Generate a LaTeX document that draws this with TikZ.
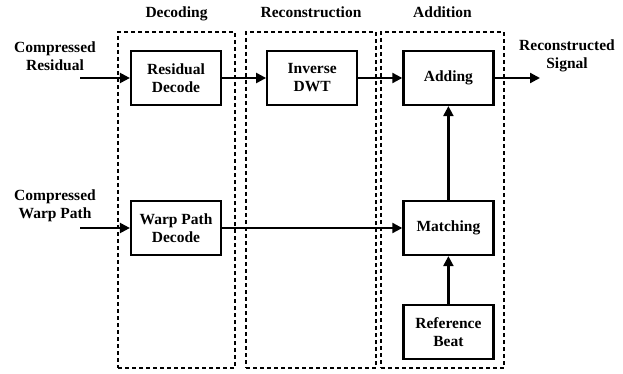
\documentclass[tikz,border=0pt]{standalone}
\usepackage{fontspec}
\setmainfont{Liberation Serif}
\usetikzlibrary{arrows.meta,positioning,fit}

\begin{document}
\begin{tikzpicture}[
  x=1pt, y=1pt,
  node distance=44pt,
  font=\fontsize{15.5}{18}\selectfont\bfseries,
  block/.style={draw, line width=2.2pt, minimum width=90pt, minimum height=54pt, align=center, inner sep=2pt},
  group/.style={draw, line width=2.2pt, dash pattern=on 4pt off 3pt, inner sep=0pt},
  title/.style={text depth=4pt, inner sep=2pt},
  signal/.style={align=center, inner sep=1pt},
  arrow/.style={-{Triangle[length=10pt,width=10pt]}, line width=2.2pt}
]
\useasboundingbox (0,0) rectangle (623,-374);
% stage frames
\node[group, fit={(118,-32) (235,-368)}] (decg) {};
\node[group, fit={(246,-32) (376,-368)}] (recg) {};
\node[group, fit={(381,-32) (504,-368)}] (addg) {};
\node[title, above=7pt of decg] (dect) {Decoding};
\node[title, above=7pt of recg] (rect) {Reconstruction};
\node[title, above=7pt of addg] (addt) {Addition};
% blocks
\node[block] (rd) at (176,-78) {Residual\\Decode};
\node[block, right=of rd] (idwt) {Inverse\\DWT};
\node[block, right=of idwt] (add) {Adding};
\node[block] (wpd) at (176,-228) {Warp Path\\Decode};
\node[block] (match) at (add |- wpd) {Matching};
\node[block, below=48pt of match] (ref) {Reference\\Beat};
% inputs and output
\node[signal] (cres) at (55,-56) {Compressed\\Residual};
\node[signal] (cwp) at (55,-206) {Compressed\\Warp Path};
\node[signal] (rsig) at (567,-56) {Reconstructed\\Signal};
\coordinate (cresin) at (80,-78);
\coordinate (cwpin) at (80,-228);
\coordinate (rsigout) at (540,-78);
\draw[arrow] (cresin)--(rd);
\draw[arrow] (rd)--(idwt);
\draw[arrow] (idwt)--(add);
\draw[arrow] (add)--(rsigout);
\draw[arrow] (cwpin)--(wpd);
\draw[arrow] (wpd)--(match);
\draw[arrow] (match)--(add);
\draw[arrow] (ref)--(match);
\end{tikzpicture}
\end{document}
